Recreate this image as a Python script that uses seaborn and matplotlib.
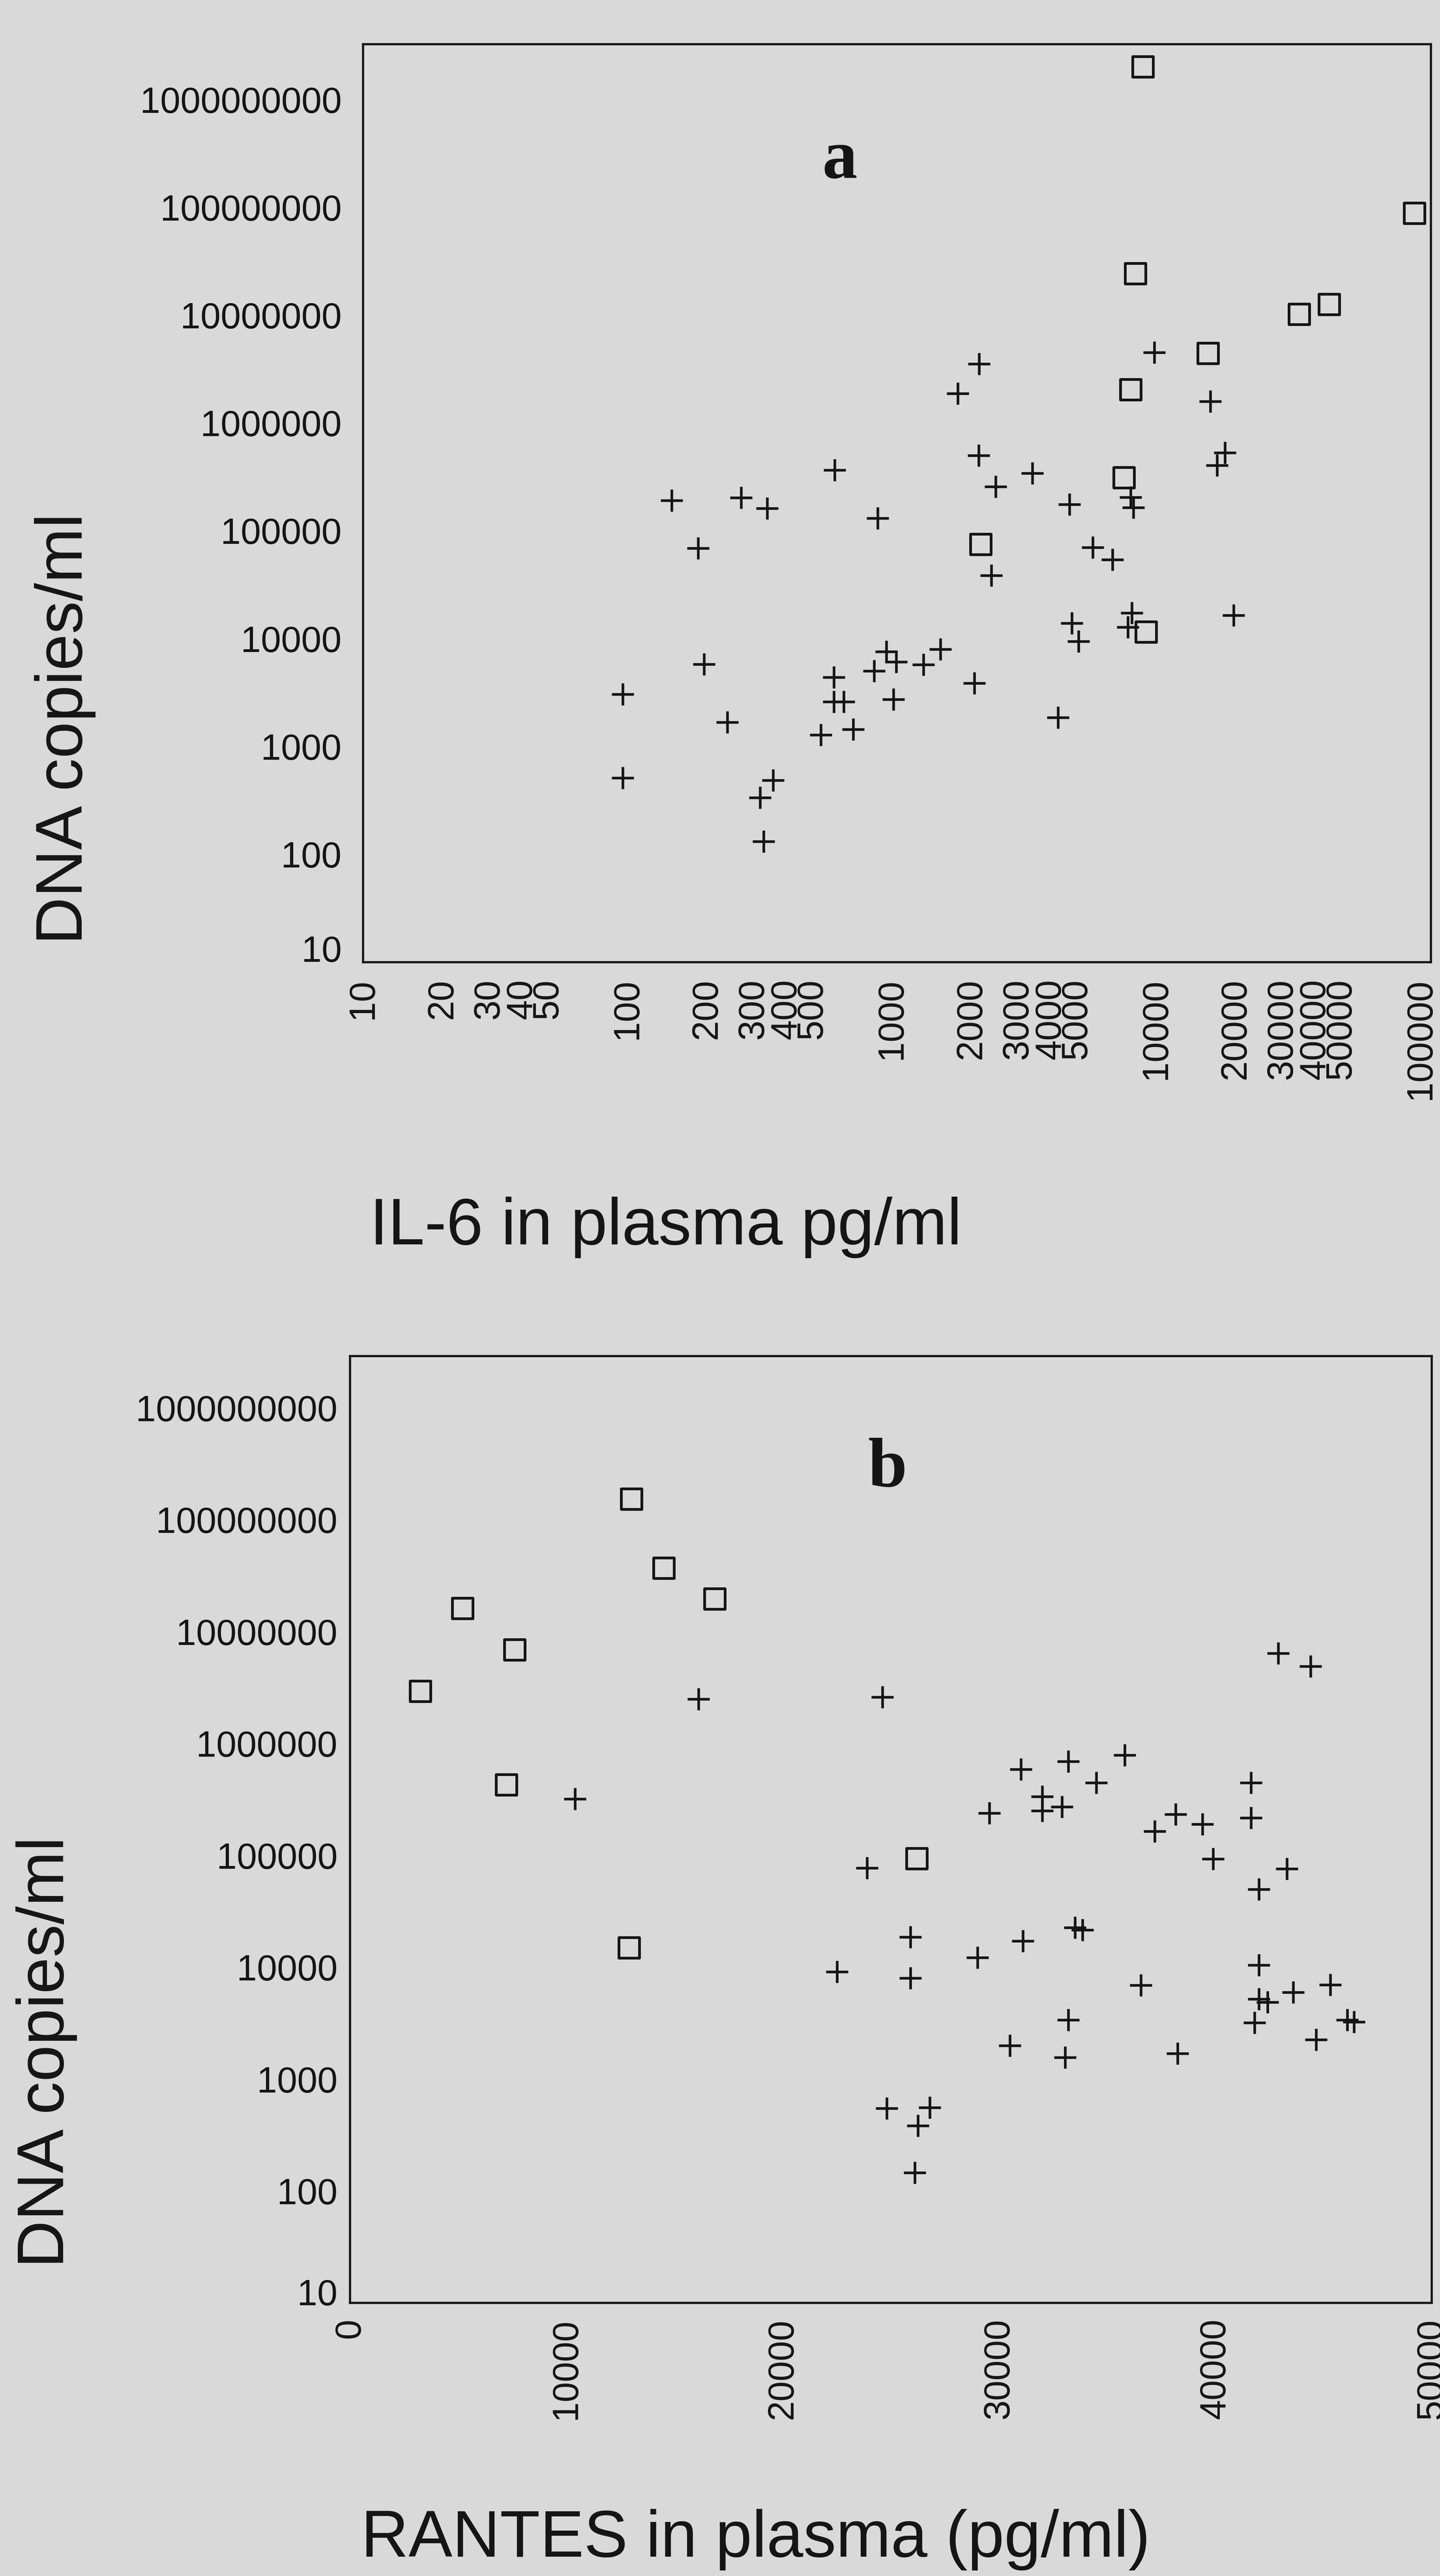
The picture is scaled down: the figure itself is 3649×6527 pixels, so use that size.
import numpy as np
import pandas as pd
import matplotlib
matplotlib.use("Agg")
import matplotlib.pyplot as plt
import matplotlib.transforms as mtransforms
from matplotlib.markers import MarkerStyle
from matplotlib.ticker import FixedLocator, FixedFormatter, NullLocator
import seaborn as sns

# ---------------- data: panel a (IL-6 vs DNA copies) ----------------
il6_plus = [96, 96, 147, 185, 195, 239, 269, 338, 317, 355, 327, 538, 604, 604, 657,
            608, 714, 857, 883, 955, 1038, 1014, 1315, 1528, 1775, 2051, 2135, 2128,
            2466, 2378, 3404, 4690, 4250, 4800, 5080, 5750, 6840, 8000, 8200, 8090,
            7810, 9820, 16030, 18170, 16990, 19630]
dna_a_plus = [3060, 512, 1.91e5, 6.9e4, 5800, 1675, 2.03e5, 1.62e5, 336, 485, 132, 1283,
              4380, 2610, 2610, 3.66e5, 1446, 5000, 1.31e5, 7590, 6110, 2740, 5720, 7980,
              1.88e6, 3870, 3.52e6, 5.0e5, 2.58e5, 3.87e4, 3.42e5, 1.76e5, 1850, 1.39e4,
              9460, 7.0e4, 5.4e4, 2.05e5, 1.65e5, 1.73e4, 1.28e4, 4.51e6, 1.58e6, 5.3e5,
              4.05e5, 1.65e4]
il6_square = [8913, 94600, 8340, 34750, 45100, 15670, 8000, 7535, 2170, 9140]
dna_a_square = [2.01e9, 8.85e7, 2.43e7, 1.02e7, 1.26e7, 4.42e6, 2.05e6, 3.12e5, 7.5e4, 1.16e4]

# ---------------- data: panel b (RANTES vs DNA copies) ----------------
rantes_plus = [16100, 24600, 10400, 42900, 44400, 31000, 33200, 35800, 34500, 32000,
               32000, 32900, 29550, 41650, 41650, 38150, 39400, 37200, 39900, 43300,
               42000, 23900, 25900, 31100, 33500, 33850, 29000, 22500, 25900, 36550,
               42000, 42000, 42400, 43600, 45300, 41800, 46100, 46400, 44650, 33200,
               30500, 33050, 38250, 24800, 26800, 26250, 26100]
dna_b_plus = [2.5e6, 2.6e6, 3.2e5, 6.4e6, 4.9e6, 5.9e5, 6.9e5, 7.9e5, 4.45e5, 3.35e5,
              2.5e5, 2.73e5, 2.38e5, 4.45e5, 2.17e5, 2.34e5, 1.9e5, 1.64e5, 9.3e4, 7.6e4,
              5.0e4, 7.7e4, 1.86e4, 1.72e4, 2.26e4, 2.15e4, 1.22e4, 9.1e3, 8.0e3, 6.9e3,
              1.05e4, 5.2e3, 4.9e3, 6.0e3, 7.0e3, 3.2e3, 3.4e3, 3.25e3, 2.26e3, 3.4e3,
              2.0e3, 1.57e3, 1.7e3, 550, 560, 385, 146]
rantes_square = [13000, 14500, 16850, 5200, 7600, 3240, 7220, 26200, 12900]
dna_b_square = [1.54e8, 3.7e7, 1.97e7, 1.62e7, 6.9e6, 2.94e6, 4.3e5, 9.4e4, 1.5e4]

# ---------------- tick definitions ----------------
y_ticks = [10, 100, 1000, 10000, 100000, 1000000, 10000000, 100000000, 1000000000]
y_tick_labels = [str(v) for v in y_ticks]
x_ticks_a = [10, 20, 30, 40, 50, 100, 200, 300, 400, 500, 1000, 2000, 3000, 4000, 5000,
             10000, 20000, 30000, 40000, 50000, 100000]
x_tick_labels_a = [str(v) for v in x_ticks_a]
x_ticks_b = [0, 10000, 20000, 30000, 40000, 50000]
x_tick_labels_b = [str(v) for v in x_ticks_b]

BG = "#d9d9d9"
INK = "#151515"

sns.set_style("white")
plt.rcParams["font.family"] = ["Liberation Sans", "DejaVu Sans"]

fig = plt.figure(figsize=(36.49, 65.27), dpi=100, facecolor=BG)

ax1 = fig.add_axes([0.2521, 0.6265, 0.7416, 0.3563])
ax2 = fig.add_axes([0.2431, 0.1060, 0.7512, 0.3676])


def draw_points(ax, xp, yp, xs, ys):
    dfp = pd.DataFrame({"x": xp, "y": yp})
    dfs = pd.DataFrame({"x": xs, "y": ys})
    sns.scatterplot(data=dfp, x="x", y="y", ax=ax, marker="+", s=1650,
                    color=INK, linewidth=4.8, legend=False, zorder=3)
    sns.scatterplot(data=dfs, x="x", y="y", ax=ax,
                    marker=MarkerStyle("s", fillstyle="none"), s=1400,
                    color=INK, linewidth=5.0, legend=False, zorder=3)
    coll = ax.collections[-1]
    coll.set_facecolor("none")
    coll.set_edgecolor(INK)
    coll.set_joinstyle("round")


def style_axes(ax, pad_y, pad_x):
    ax.set_facecolor(BG)
    for sp in ax.spines.values():
        sp.set_visible(True)
        sp.set_linewidth(4)
        sp.set_color(INK)
    ax.tick_params(axis="both", which="major", direction="out", length=11, width=9,
                   color=INK, labelcolor=INK, labelsize=66)
    ax.tick_params(axis="y", pad=pad_y)
    ax.tick_params(axis="x", pad=pad_x, labelrotation=90)
    ax.set_xlabel("")
    ax.set_ylabel("")


# ---- panel a ----
draw_points(ax1, il6_plus, dna_a_plus, il6_square, dna_a_square)
ax1.set_xscale("log")
ax1.set_yscale("log")
ax1.set_xlim(10, 1.094e5)
ax1.set_ylim(10, 3.25e9)
ax1.xaxis.set_major_locator(FixedLocator(x_ticks_a))
ax1.xaxis.set_major_formatter(FixedFormatter(x_tick_labels_a))
ax1.yaxis.set_major_locator(FixedLocator(y_ticks))
ax1.yaxis.set_major_formatter(FixedFormatter(y_tick_labels))
ax1.xaxis.set_minor_locator(NullLocator())
ax1.yaxis.set_minor_locator(NullLocator())
style_axes(ax1, pad_y=28, pad_x=19)
ax1.text(0.4464, 0.873, "a", transform=ax1.transAxes, ha="center", va="center",
         fontsize=128, fontweight="bold", family=["Liberation Serif", "DejaVu Serif"],
         color=INK)

# ---- panel b ----
draw_points(ax2, rantes_plus, dna_b_plus, rantes_square, dna_b_square)
ax2.set_yscale("log")
ax2.set_xlim(0, 50000)
ax2.set_ylim(10, 2.91e9)
ax2.xaxis.set_major_locator(FixedLocator(x_ticks_b))
ax2.xaxis.set_major_formatter(FixedFormatter(x_tick_labels_b))
ax2.yaxis.set_major_locator(FixedLocator(y_ticks))
ax2.yaxis.set_major_formatter(FixedFormatter(y_tick_labels))
ax2.xaxis.set_minor_locator(NullLocator())
ax2.yaxis.set_minor_locator(NullLocator())
style_axes(ax2, pad_y=12, pad_x=17)
ax2.text(0.497, 0.880, "b", transform=ax2.transAxes, ha="center", va="center",
         fontsize=128, fontweight="bold", family=["Liberation Serif", "DejaVu Serif"],
         color=INK)

# lowest y label ("10") sits a little above the axis bottom, as in the source
for ax, dy in ((ax1, 0.34), (ax2, 0.28)):
    lab = ax.yaxis.get_major_ticks()[0].label1
    lab.set_transform(lab.get_transform() +
                      mtransforms.ScaledTranslation(0, dy, fig.dpi_scale_trans))

# ---- axis titles ----
W, H = 3649.0, 6527.0
fig.text(165 / W, 1 - 1847 / H, "DNA copies/ml", rotation=90, ha="center", va="center",
         fontsize=120, color=INK)
fig.text(1687 / W, 1 - 3110 / H, "IL-6 in plasma pg/ml", ha="center", va="center",
         fontsize=120, color=INK)
fig.text(118 / W, 1 - 5200 / H, "DNA copies/ml", rotation=90, ha="center", va="center",
         fontsize=120, color=INK)
fig.text(1915 / W, 1 - 6435 / H, "RANTES in plasma (pg/ml)", ha="center", va="center",
         fontsize=120, color=INK)

fig.savefig("out.png", dpi=100, facecolor=BG)
